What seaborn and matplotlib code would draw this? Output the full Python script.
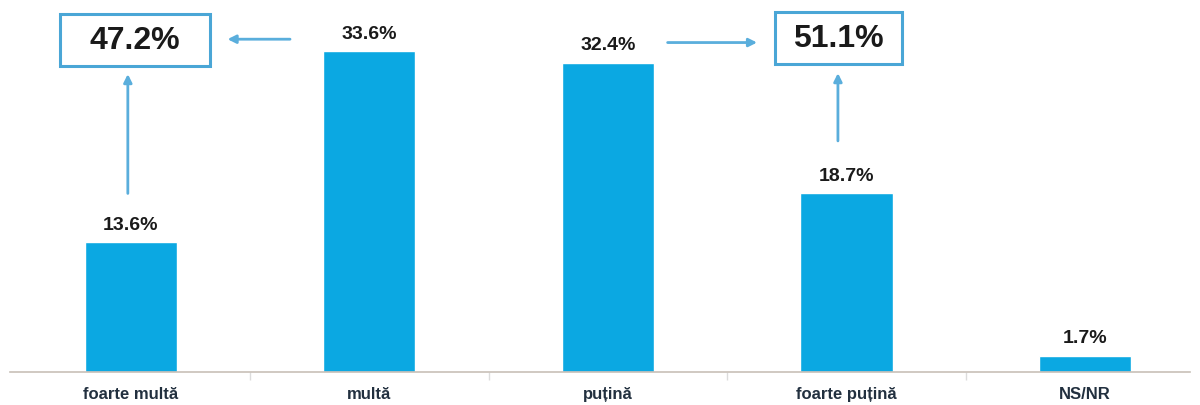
import matplotlib
matplotlib.use("Agg")
import matplotlib.pyplot as plt
from matplotlib.patches import Rectangle
import seaborn as sns
import pandas as pd

categories = ["foarte multă", "multă", "puțină", "foarte puțină", "NS/NR"]
values = [13.6, 33.6, 32.4, 18.7, 1.7]
value_labels = ["13.6%", "33.6%", "32.4%", "18.7%", "1.7%"]
group_labels = ["47.2%", "51.1%"]

sns.set_style("white")
plt.rcParams['font.family'] = ['Liberation Sans', 'DejaVu Sans']

df = pd.DataFrame({"cat": categories, "val": values})

fig = plt.figure(figsize=(12, 4.06), dpi=100)
ax = fig.add_axes([10/1200, 33/406, 1180/1200, 373/406])

bar_color = "#0BA8E2"
sns.barplot(data=df, x="cat", y="val", color=bar_color, width=0.386,
            saturation=1, ax=ax)

ax.set_xlim(-0.507, 4.44)
ax.set_ylim(0, 39.06)
ax.set_xlabel("")
ax.set_ylabel("")
ax.set_yticks([])
for s in ["top", "right", "left"]:
    ax.spines[s].set_visible(False)
ax.spines["bottom"].set_color("#c8c0b8")
ax.spines["bottom"].set_linewidth(1.2)
ax.set_xticks(range(len(categories)))
ax.set_xticklabels(categories, fontsize=12, fontweight="bold", color="#22303f")
ax.tick_params(axis="x", which="major", length=0, pad=10)
ax.set_xticks([0.5, 1.5, 2.5, 3.5], minor=True)
ax.tick_params(axis="x", which="minor", bottom=True, length=6,
               color="#dcdcdc", width=1)

for i, (v, lab) in enumerate(zip(values, value_labels)):
    ax.text(i, v + 1.0, lab, ha="center", va="bottom", fontsize=14,
            fontweight="bold", color="#1a1a1a")

# group boxes
box_edge = "#4AA6D6"
arrow_col = "#5AAEDC"
ax.add_patch(Rectangle((-0.298, 32.04), 0.629, 5.45, fill=True, fc="white",
                       ec=box_edge, lw=2.2, zorder=3))
ax.add_patch(Rectangle((2.70, 32.25), 0.533, 5.45, fill=True, fc="white",
                       ec=box_edge, lw=2.2, zorder=3))
ax.text(0.017, 34.77, group_labels[0], ha="center", va="center", fontsize=23,
        fontweight="bold", color="#1a1a1a", zorder=4)
ax.text(2.966, 34.98, group_labels[1], ha="center", va="center", fontsize=23,
        fontweight="bold", color="#1a1a1a", zorder=4)

ap = dict(arrowstyle="-|>", color=arrow_col, lw=2, mutation_scale=12,
          shrinkA=0, shrinkB=0)
# horizontal from 33.6 to 47.2 box
ax.annotate("", xy=(0.405, 34.85), xytext=(0.667, 34.85), arrowprops=ap)
# vertical from 13.6 up to box
ax.annotate("", xy=(-0.013, 31.2), xytext=(-0.013, 18.7), arrowprops=ap)
# horizontal from 32.4 to 51.1 box
ax.annotate("", xy=(2.625, 34.5), xytext=(2.25, 34.5), arrowprops=ap)
# vertical from 18.7 up to box
ax.annotate("", xy=(2.964, 31.3), xytext=(2.964, 24.2), arrowprops=ap)

fig.savefig("out.png", dpi=100)
